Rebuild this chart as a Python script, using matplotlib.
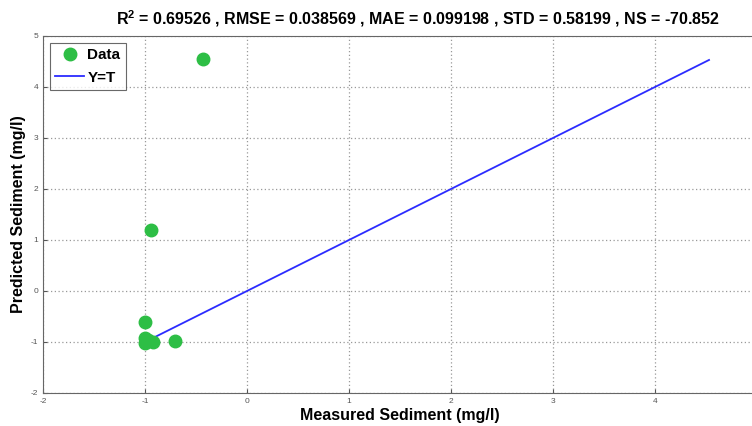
import matplotlib
matplotlib.use("Agg")
import matplotlib.pyplot as plt

measured = [-0.43, -0.945, -1.0, -1.0, -1.0, -0.92, -0.71, -0.97]
predicted = [4.54, 1.20, -0.60, -0.92, -1.02, -1.00, -0.99, -0.97]
ideal_line = [-1.02, 4.53]

title = "R$^2$ = 0.69526 , RMSE = 0.038569 , MAE = 0.099198 , STD = 0.58199 , NS = -70.852"
xticks = [-2, -1, 0, 1, 2, 3, 4]
yticks = [-2, -1, 0, 1, 2, 3, 4, 5]

plt.rcParams['font.family'] = ['Liberation Sans', 'DejaVu Sans']
plt.rcParams['axes.unicode_minus'] = False
plt.rcParams['mathtext.fontset'] = 'custom'
plt.rcParams['mathtext.rm'] = 'Liberation Sans:bold'
plt.rcParams['mathtext.it'] = 'Liberation Sans:bold'
plt.rcParams['mathtext.bf'] = 'Liberation Sans:bold'

fig = plt.figure(figsize=(7.52, 4.26), dpi=100)
ax = fig.add_axes([0.0572, 0.0775, 0.9494, 0.838])

ax.plot(measured, predicted, 'o', color='#2dbe45', markersize=9, label='Data', zorder=3)
ax.plot(ideal_line, ideal_line, '-', color='#2b2bff', linewidth=1.3, label='Y=T', zorder=2)

ax.set_xlim(-2, 5)
ax.set_ylim(-2, 5)
ax.set_xticks(xticks)
ax.set_yticks(yticks)
ax.xaxis.set_minor_locator(plt.FixedLocator([5]))
ax.grid(True, which='both', linestyle=(0, (1, 2)), color='#999999', linewidth=0.9)
ax.tick_params(which='both', direction='in', labelsize=6, labelcolor='#555555', color='#555555', length=3)
for s in ax.spines.values():
    s.set_color('#666666')
    s.set_linewidth(0.8)

ax.set_title(title, fontsize=11.5, fontweight='bold', pad=8, x=0.525)
ax.set_xlabel('Measured Sediment (mg/l)', fontsize=11.5, fontweight='bold', labelpad=2)
ax.set_ylabel('Predicted Sediment (mg/l)', fontsize=11.5, fontweight='bold')
ax.yaxis.set_label_coords(-0.024, 0.5)

leg = ax.legend(loc='upper left', prop={'weight': 'bold', 'size': 11},
                fancybox=False, edgecolor='#444444', borderpad=0.35, handlelength=1.9,
                handletextpad=0.2, labelspacing=0.55, borderaxespad=0.45)
leg.get_frame().set_linewidth(0.8)

fig.savefig('out.png', dpi=100)
